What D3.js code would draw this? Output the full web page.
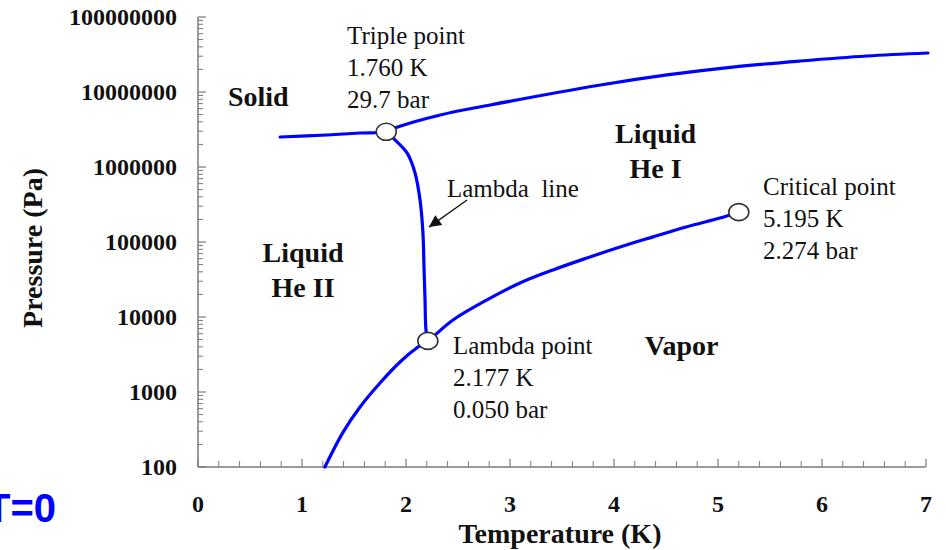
<!DOCTYPE html>
<html>
<head>
<meta charset="utf-8">
<script src="https://cdn.jsdelivr.net/npm/d3@7"></script>
<style>
  html, body { margin: 0; padding: 0; background: #fff; }
  svg { display: block; }
</style>
</head>
<body>
<svg id="chart" width="946" height="550"></svg>
<script>
// ---- Data (temperature in K, pressure in Pa) ----
const meltingCurve = [
  [0.79, 2.51e6], [1.24, 2.67e6], [1.56, 2.84e6], [1.81, 2.95e6],
  [1.92, 3.41e6], [2.33, 4.94e6], [2.81, 6.71e6], [3.87, 1.24e7],
  [4.51, 1.69e7], [5.14, 2.15e7], [5.79, 2.59e7], [6.43, 3.02e7], [7.02, 3.31e7]
];
const lambdaLine = [
  [1.81, 2.95e6], [1.875, 2.44e6], [2.01, 1.54e6], [2.087, 8.32e5],
  [2.135, 3.63e5], [2.163, 1.32e5], [2.173, 4.64e4], [2.183, 1.69e4],
  [2.192, 6.7e3], [2.21, 4.8e3]
];
const vaporCurve = [
  [1.22, 100], [1.394, 290], [1.558, 631], [1.75, 1318], [1.942, 2512],
  [2.115, 3981], [2.21, 4.8e3], [2.452, 9120], [2.779, 1.69e4],
  [3.096, 2.84e4], [3.413, 4.24e4], [3.74, 6.12e4], [4.058, 8.58e4],
  [4.375, 1.17e5], [4.702, 1.6e5], [5.019, 2.09e5], [5.2, 2.5e5]
];
const specialPoints = [
  {name: "triple", T: 1.81, P: 2.95e6},
  {name: "lambda", T: 2.21, P: 4.8e3},
  {name: "critical", T: 5.2, P: 2.5e5}
];
const pointLabels = [
  {T: 1.433, P: 4.37e7, lines: ["Triple point", "1.760 K", "29.7 bar"]},
  {T: 5.433, P: 4.24e5, lines: ["Critical point", "5.195 K", "2.274 bar"]},
  {T: 2.452, P: 3.2e3, lines: ["Lambda point", "2.177 K", "0.050 bar"]},
  {T: 2.394, P: 3.98e5, lines: ["Lambda\u00a0 line"]}
];
const regionLabels = [
  {T: 0.58, P: 6.5e6, lines: ["Solid"]},
  {T: 1.01, P: 5.4e4, lines: ["Liquid", "He II"]},
  {T: 4.40, P: 2.09e6, lines: ["Liquid", "He I"]},
  {T: 4.65, P: 3.1e3, lines: ["Vapor"]}
];
const arrowLine = {from: [2.587, 3.63e5], to: [2.221, 1.58e5]};
const xTicks = [0, 1, 2, 3, 4, 5, 6, 7];
const yTicks = [100, 1000, 10000, 100000, 1000000, 10000000, 100000000];
const xTitle = "Temperature (K)";
const yTitle = "Pressure (Pa)";
const cornerText = "T=0";

// ---- Layout ----
const svg = d3.select("#chart");
const x = d3.scaleLinear().domain([0, 7]).range([198, 926]);
const y = d3.scaleLog().domain([100, 1e8]).range([467, 17]);
const serif = "'Liberation Serif', 'Times New Roman', Times, serif";
const axisColor = "#7a7a7a";

// Y axis: line + major/minor ticks (pointing inward)
const yMinor = [];
for (let e = 2; e < 8; e++) for (let m = 2; m <= 9; m++) yMinor.push(m * Math.pow(10, e));
const yAxisG = svg.append("g").attr("transform", `translate(${x(0)},0)`);
yAxisG.append("line").attr("x1", 0).attr("x2", 0).attr("y1", y(1e8)).attr("y2", y(100))
  .attr("stroke", axisColor).attr("stroke-width", 1.5);
yAxisG.selectAll(".ymaj").data(yTicks).join("line")
  .attr("x1", 0).attr("x2", 8).attr("y1", d => y(d)).attr("y2", d => y(d))
  .attr("stroke", axisColor).attr("stroke-width", 1.2);
yAxisG.selectAll(".ymin").data(yMinor).join("line")
  .attr("x1", 0).attr("x2", 5).attr("y1", d => y(d)).attr("y2", d => y(d))
  .attr("stroke", axisColor).attr("stroke-width", 1);
svg.selectAll(".ylab").data(yTicks).join("text")
  .attr("x", 177).attr("y", d => y(d)).attr("dy", "0.34em")
  .attr("text-anchor", "end").attr("font-family", serif).attr("font-weight", "bold")
  .attr("font-size", 24).attr("fill", "#111").text(d => d3.format("d")(d));

// X axis
const xMinor = d3.range(0, 7.001, 0.2).filter(v => Math.abs(v - Math.round(v)) > 1e-6);
const xAxisG = svg.append("g").attr("transform", `translate(0,${y(100)})`);
xAxisG.append("line").attr("x1", x(0)).attr("x2", x(7)).attr("y1", 0).attr("y2", 0)
  .attr("stroke", axisColor).attr("stroke-width", 1.5);
xAxisG.selectAll(".xmaj").data(xTicks).join("line")
  .attr("x1", d => x(d)).attr("x2", d => x(d)).attr("y1", 0).attr("y2", -8)
  .attr("stroke", axisColor).attr("stroke-width", 1.2);
xAxisG.selectAll(".xmin").data(xMinor).join("line")
  .attr("x1", d => x(d)).attr("x2", d => x(d)).attr("y1", 0).attr("y2", -6)
  .attr("stroke", axisColor).attr("stroke-width", 1);
svg.selectAll(".xlab").data(xTicks).join("text")
  .attr("x", d => x(d)).attr("y", 512)
  .attr("text-anchor", "middle").attr("font-family", serif).attr("font-weight", "bold")
  .attr("font-size", 24).attr("fill", "#111").text(d => d);

// Axis titles
svg.append("text").attr("x", 560).attr("y", 543).attr("text-anchor", "middle")
  .attr("font-family", serif).attr("font-weight", "bold").attr("font-size", 28)
  .attr("fill", "#111").text(xTitle);
svg.append("text").attr("transform", "translate(42,248) rotate(-90)").attr("text-anchor", "middle")
  .attr("font-family", serif).attr("font-weight", "bold").attr("font-size", 28)
  .attr("fill", "#111").text(yTitle);

// Curves
const line = d3.line().x(d => x(d[0])).y(d => y(d[1])).curve(d3.curveCatmullRom.alpha(0.5));
[meltingCurve, vaporCurve, lambdaLine].forEach(c => {
  svg.append("path").attr("d", line(c)).attr("fill", "none")
    .attr("stroke", "#0000ff").attr("stroke-width", 3.2).attr("stroke-linecap", "round");
});

// Arrow
svg.append("defs").append("marker").attr("id", "arrowhead")
  .attr("viewBox", "0 0 10 10").attr("refX", 10).attr("refY", 5)
  .attr("markerWidth", 14).attr("markerHeight", 12).attr("markerUnits", "userSpaceOnUse")
  .attr("orient", "auto")
  .append("path").attr("d", "M0,0 L10,5 L0,10 Z").attr("fill", "#111");
svg.append("line")
  .attr("x1", x(arrowLine.from[0])).attr("y1", y(arrowLine.from[1]))
  .attr("x2", x(arrowLine.to[0])).attr("y2", y(arrowLine.to[1]))
  .attr("stroke", "#111").attr("stroke-width", 1.3).attr("marker-end", "url(#arrowhead)");

// Special points
svg.selectAll(".pt").data(specialPoints).join("ellipse")
  .attr("cx", d => x(d.T)).attr("cy", d => y(d.P)).attr("rx", 10).attr("ry", 8.5)
  .attr("fill", "#fff").attr("stroke", "#333").attr("stroke-width", 1.6);

// Point labels
pointLabels.forEach(l => {
  const t = svg.append("text").attr("font-family", serif).attr("font-size", 25).attr("fill", "#111")
    .attr("x", x(l.T)).attr("y", y(l.P));
  l.lines.forEach((s, i) => t.append("tspan").attr("x", x(l.T)).attr("dy", i === 0 ? 0 : 32).text(s));
});

// Region labels
regionLabels.forEach(l => {
  const t = svg.append("text").attr("font-family", serif).attr("font-size", 28).attr("font-weight", "bold")
    .attr("fill", "#111").attr("text-anchor", "middle").attr("x", x(l.T)).attr("y", y(l.P));
  l.lines.forEach((s, i) => t.append("tspan").attr("x", x(l.T)).attr("dy", i === 0 ? 0 : 35).text(s));
});

// Corner text (partly cut off at the left edge, as in the reference)
svg.append("text").attr("x", 56).attr("y", 522).attr("text-anchor", "end")
  .attr("font-family", "'Liberation Sans', Arial, sans-serif").attr("font-weight", "bold")
  .attr("font-size", 40).attr("fill", "#0000ff").text(cornerText);
</script>
</body>
</html>
